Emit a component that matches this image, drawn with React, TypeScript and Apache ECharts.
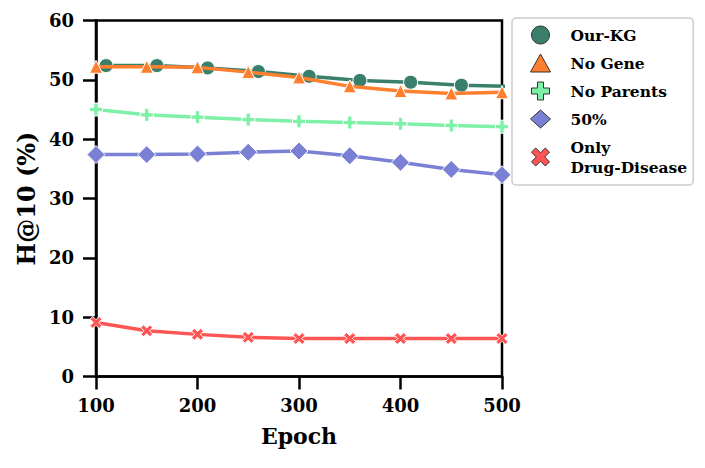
import React, { useEffect, useRef } from "react";
import * as echarts from "echarts";

const epochsShift = [110, 160, 210, 260, 310, 360, 410, 460, 510];
const epochs = [100, 150, 200, 250, 300, 350, 400, 450, 500];

const ourKG = [52.4, 52.4, 52.0, 51.4, 50.6, 49.9, 49.6, 49.1, 48.9];
const noGene = [52.2, 52.2, 52.1, 51.3, 50.4, 48.9, 48.1, 47.7, 47.9];
const noParents = [45.0, 44.1, 43.7, 43.3, 43.0, 42.8, 42.6, 42.3, 42.1];
const half = [37.4, 37.4, 37.5, 37.8, 38.0, 37.2, 36.1, 34.9, 34.0];
const onlyDD = [9.1, 7.7, 7.1, 6.6, 6.4, 6.4, 6.4, 6.4, 6.4];

const names = ["Our-KG", "No Gene", "No Parents", "50%", "Only\nDrug-Disease"];
const colors = ["#3a7f6b", "#ff7f2e", "#7ff0a8", "#7a80d4", "#ff5555"];

const PLUS = "path://M-1,-3H1V-1H3V1H1V3H-1V1H-3V-1H-1Z";
const CROSS =
  "path://M-3,-1.6L-1.6,-3L0,-1.4L1.6,-3L3,-1.6L1.4,0L3,1.6L1.6,3L0,1.4L-1.6,3L-3,1.6L-1.4,0Z";
const symbols = ["circle", "triangle", PLUS, "diamond", CROSS];
const symbolSizes = [14, 13, 13, 18, 12];

const FONT = "'DejaVu Serif', serif";

export default function App() {
  const ref = useRef<HTMLDivElement>(null);
  useEffect(() => {
    if (!ref.current) return;
    const chart = echarts.init(ref.current, undefined, { renderer: "svg" });
    const xsets = [epochsShift, epochs, epochs, epochs, epochs];
    const ysets = [ourKG, noGene, noParents, half, onlyDD];
    const series = names.map((n, i) => ({
      name: n,
      type: "line",
      data: xsets[i].map((x, j) => [x, ysets[i][j]]),
      symbol: symbols[i],
      symbolSize: symbolSizes[i],
      showAllSymbol: true,
      clip: true,
      z: 2 + i,
      lineStyle: { color: colors[i], width: 3.5 },
      itemStyle: { color: colors[i], borderColor: "#ffffff", borderWidth: 1 },
      emphasis: { disabled: true },
    }));
    chart.setOption({
      animation: false,
      grid: {
        left: 96,
        right: 203,
        top: 20.5,
        bottom: 91.5,
        show: true,
        borderColor: "#000",
        borderWidth: 2.5,
        backgroundColor: "transparent",
      },
      legend: {
        orient: "vertical",
        left: 512,
        top: 18,
        padding: [7, 6, 8, 18],
        itemGap: 8,
        itemWidth: 20,
        itemHeight: 18,
        borderColor: "#cccccc",
        borderWidth: 1.5,
        borderRadius: 4,
        backgroundColor: "#fff",
        selectedMode: false,
        data: names.map((n, i) => ({
          name: n,
          icon: symbols[i],
          itemStyle: { color: colors[i], borderColor: "#333", borderWidth: 1 },
        })),
        textStyle: {
          fontFamily: FONT,
          fontWeight: "bold",
          fontSize: 15.5,
          lineHeight: 20,
          color: "#000",
          padding: [0, 0, 0, 15],
        },
      },
      xAxis: {
        type: "value",
        min: 100,
        max: 500,
        interval: 100,
        name: "Epoch",
        nameLocation: "middle",
        nameGap: 48,
        nameTextStyle: {
          fontFamily: FONT,
          fontWeight: "bold",
          fontSize: 22,
          color: "#000",
        },
        axisLine: { show: true, lineStyle: { color: "#000", width: 2.5 } },
        axisTick: {
          show: true,
          inside: false,
          length: 13,
          lineStyle: { color: "#000", width: 2.5 },
        },
        axisLabel: {
          margin: 20,
          fontFamily: FONT,
          fontWeight: "bold",
          fontSize: 18,
          color: "#000",
        },
        splitLine: { show: false },
      },
      yAxis: {
        type: "value",
        min: 0,
        max: 60,
        interval: 10,
        name: "H@10 (%)",
        nameLocation: "middle",
        nameGap: 52,
        nameTextStyle: {
          fontFamily: FONT,
          fontWeight: "bold",
          fontSize: 24,
          color: "#000",
        },
        axisLine: { show: true, lineStyle: { color: "#000", width: 2.5 } },
        axisTick: {
          show: true,
          inside: false,
          length: 13,
          lineStyle: { color: "#000", width: 2.5 },
        },
        axisLabel: {
          margin: 22,
          fontFamily: FONT,
          fontWeight: "bold",
          fontSize: 18,
          color: "#000",
        },
        splitLine: { show: false },
      },
      series,
    });
    return () => chart.dispose();
  }, []);
  return (
    <div
      ref={ref}
      style={{ position: "fixed", left: 0, top: 0, width: 705, height: 468, background: "#fff" }}
    />
  );
}
